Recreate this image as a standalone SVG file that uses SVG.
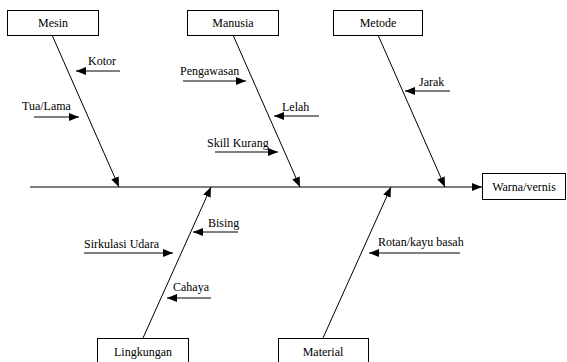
<svg xmlns="http://www.w3.org/2000/svg" width="567" height="362" viewBox="0 0 567 362">
<defs>
<marker id="ah" viewBox="0 0 10 8" refX="10" refY="4" markerWidth="10" markerHeight="8" markerUnits="userSpaceOnUse" orient="auto">
<path d="M0,0 L10,4 L0,8 Z" fill="#000"/>
</marker>
</defs>
<style>
text{font-family:"Liberation Serif","Times New Roman",serif;font-size:12px;fill:#000}
.box{fill:#fff;stroke:#000;stroke-width:1}
.c{text-anchor:middle}
.ln{stroke:#000;stroke-width:1;fill:none;marker-end:url(#ah)}
</style>
<rect width="567" height="362" fill="#fff"/>
<g id="connectors">
<line class="ln" x1="30" y1="187" x2="482" y2="187"/>
<line class="ln" x1="52" y1="35" x2="119" y2="187"/>
<line class="ln" x1="233" y1="35" x2="300" y2="187"/>
<line class="ln" x1="378" y1="35" x2="445" y2="187"/>
<line class="ln" x1="143" y1="338" x2="211" y2="187"/>
<line class="ln" x1="323" y1="338" x2="391" y2="187"/>
<line class="ln" x1="120" y1="71" x2="76" y2="71"/>
<line class="ln" x1="34" y1="117" x2="79" y2="117"/>
<line class="ln" x1="183" y1="81" x2="246" y2="81"/>
<line class="ln" x1="319" y1="116" x2="274" y2="116"/>
<line class="ln" x1="215" y1="152" x2="278" y2="152"/>
<line class="ln" x1="450" y1="91" x2="405" y2="91"/>
<line class="ln" x1="238" y1="232" x2="193" y2="232"/>
<line class="ln" x1="84" y1="253" x2="173" y2="253"/>
<line class="ln" x1="211" y1="298" x2="167" y2="298"/>
<line class="ln" x1="460" y1="253" x2="369" y2="253"/>
</g>
<g id="mesin"><rect class="box" x="7.5" y="10.5" width="91" height="25"/><text class="c" x="53" y="27">Mesin</text></g>
<g id="manusia"><rect class="box" x="187.5" y="10.5" width="91" height="25"/><text class="c" x="233" y="27">Manusia</text></g>
<g id="metode"><rect class="box" x="333.5" y="10.5" width="89" height="25"/><text class="c" x="378" y="27">Metode</text></g>
<g id="warna"><rect class="box" x="482.5" y="173.5" width="83" height="26"/><text class="c" x="524" y="191">Warna/vernis</text></g>
<g id="lingkungan"><rect class="box" x="97.5" y="338.5" width="91" height="26"/><text class="c" x="143" y="356">Lingkungan</text></g>
<g id="material"><rect class="box" x="278.5" y="338.5" width="90" height="26"/><text class="c" x="323" y="356">Material</text></g>
<g id="labels">
<text x="88" y="65">Kotor</text>
<text x="22" y="110">Tua/Lama</text>
<text x="180" y="75">Pengawasan</text>
<text x="282" y="111">Lelah</text>
<text x="207" y="147">Skill Kurang</text>
<text x="419" y="86">Jarak</text>
<text x="208" y="227">Bising</text>
<text x="84" y="248">Sirkulasi Udara</text>
<text x="173" y="291">Cahaya</text>
<text x="378" y="246">Rotan/kayu basah</text>
</g>
</svg>
